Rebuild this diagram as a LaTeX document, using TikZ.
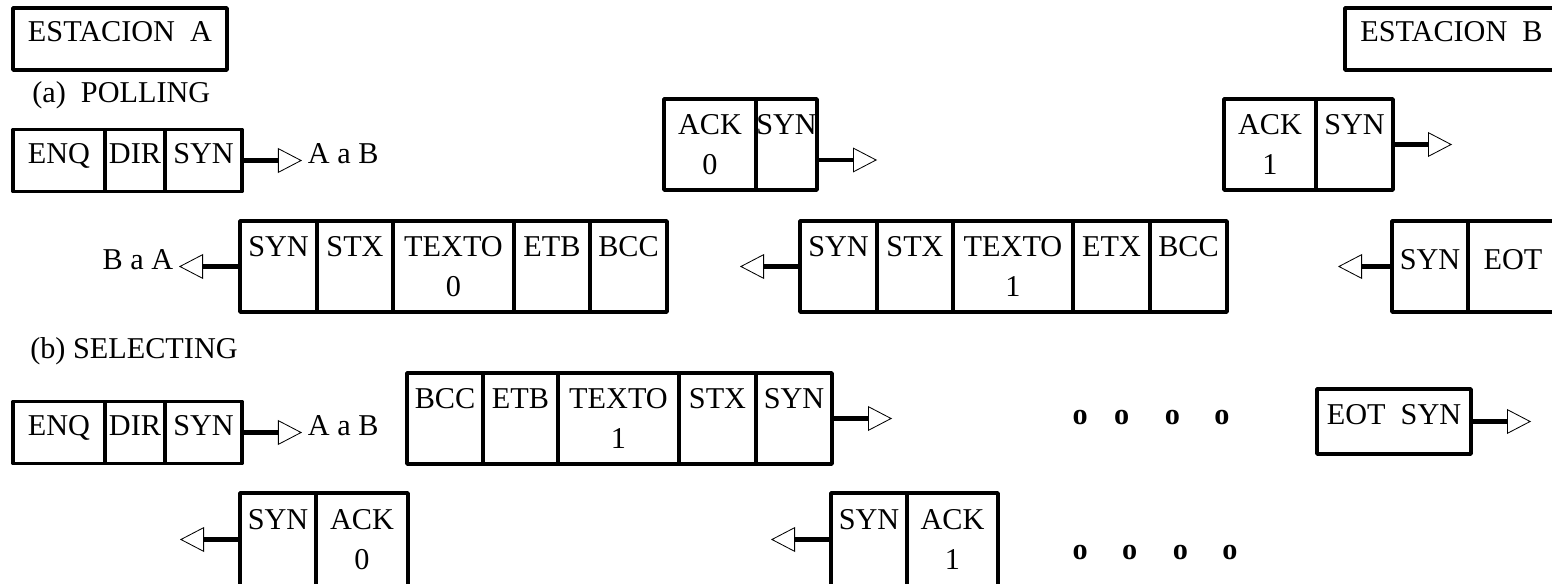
\documentclass[tikz,border=0pt]{standalone}
\usepackage{fontspec}
\setmainfont{Liberation Serif}
\usepackage{tikz}
\usetikzlibrary{arrows.meta}
\newcommand{\pxu}{0.025cm}

\begin{document}
\begin{tikzpicture}[x=0.025cm, y=-0.025cm, font=\fontsize{21.5}{28.4}\selectfont,
  celda/.style 2 args={draw, line width=2.6pt, line join=round, inner sep=0pt, align=center,
    minimum width=#1*\pxu, minimum height=#2*\pxu},
  una/.style={text height=0.67em, text depth=0.25em},
  etiq/.style={inner xsep=0.4em, inner ysep=0pt, text height=0.67em, text depth=0.25em},
  flecha/.style={line width=3pt, -{Triangle[open, length=0.6cm, width=0.62cm, line width=0.6pt]}}]
  \useasboundingbox (0,0) rectangle (1552,584);

  % estaciones
  \node[celda={214}{62}, una] (estA) at (120,39) {ESTACION~~A};
  \node[celda={213}{62}, una] (estB) at (1451.5,39) {ESTACION~~B};

  % (a) polling
  \node[anchor=base west, inner sep=0pt] (pol) at (32,103) {(a)~~POLLING};
  \node[celda={92}{62}, una] (p1e) at (59,160.5) {ENQ};
  \node[celda={60}{62}, una] (p1d) at (135,160.5) {DIR};
  \node[celda={77}{62}, una] (p1s) at (203.5,160.5) {SYN};
  \node[etiq, anchor=west] (p1t) at (302,160.5) {A a B};
  \draw[flecha] (p1s.east) -- (p1t.west);

  \node[celda={92}{91}] (a0k) at (710,144.5) {ACK\\0};
  \node[celda={61}{91}] (a0s) at (786.5,144.5) {SYN\\\phantom{0}};
  \coordinate (a0f) at (877,160);
  \draw[flecha] (a0f -| a0s.east) -- (a0f);

  \node[celda={92}{91}] (a1k) at (1270,144.5) {ACK\\1};
  \node[celda={77}{91}] (a1s) at (1354.5,144.5) {SYN\\\phantom{0}};
  \coordinate (a1f) at (1452,144.5);
  \draw[flecha] (a1s.east) -- (a1f);

  \node[celda={77}{91}] (t0a) at (278.5,266.5) {SYN\\\phantom{0}};
  \node[celda={76}{91}] (t0b) at (355,266.5) {STX\\\phantom{0}};
  \node[celda={121}{91}] (t0c) at (453.5,266.5) {TEXTO\\0};
  \node[celda={76}{91}] (t0d) at (552,266.5) {ETB\\\phantom{0}};
  \node[celda={77}{91}] (t0e) at (628.5,266.5) {BCC\\\phantom{0}};
  \node[etiq, anchor=east] (t0t) at (179,266.5) {B a A};
  \draw[flecha] (t0a.west) -- (t0t.east);

  \node[celda={77}{91}] (t1a) at (838.5,266.5) {SYN\\\phantom{0}};
  \node[celda={76}{91}] (t1b) at (915,266.5) {STX\\\phantom{0}};
  \node[celda={120}{91}] (t1c) at (1013,266.5) {TEXTO\\1};
  \node[celda={77}{91}] (t1d) at (1111.5,266.5) {ETX\\\phantom{0}};
  \node[celda={77}{91}] (t1e) at (1188.5,266.5) {BCC\\\phantom{0}};
  \coordinate (t1f) at (740,266.5);
  \draw[flecha] (t1a.west) -- (t1f);

  \node[celda={76}{91}, una] (fa) at (1430,266.5) {SYN};
  \node[celda={90}{91}, una] (fb) at (1513,266.5) {EOT};
  \coordinate (ff) at (1338,266.5);
  \draw[flecha] (fa.west) -- (ff);

  % (b) selecting
  \node[anchor=base west, inner sep=0pt] (sel) at (30,358) {(b) SELECTING};
  \node[celda={92}{62}, una] (s1e) at (59,432.5) {ENQ};
  \node[celda={60}{62}, una] (s1d) at (135,432.5) {DIR};
  \node[celda={77}{62}, una] (s1s) at (203.5,432.5) {SYN};
  \node[etiq, anchor=west] (s1t) at (302,432.5) {A a B};
  \draw[flecha] (s1s.east) -- (s1t.west);

  \node[celda={76}{91}] (b1a) at (445,418.5) {BCC\\\phantom{0}};
  \node[celda={75}{91}] (b1b) at (520.5,418.5) {ETB\\\phantom{0}};
  \node[celda={121}{91}] (b1c) at (618.5,418.5) {TEXTO\\1};
  \node[celda={77}{91}] (b1d) at (717.5,418.5) {STX\\\phantom{0}};
  \node[celda={76}{91}] (b1e) at (794,418.5) {SYN\\\phantom{0}};
  \coordinate (b1f) at (892,418.5);
  \draw[flecha] (b1e.east) -- (b1f);

  \node (pt1) at (1151,418) {\bfseries o\hspace{0.66cm}o\hspace{0.89cm}o\hspace{0.86cm}o};

  \node[celda={154}{65}, una] (eot) at (1394,421.5) {EOT~~SYN};
  \coordinate (eotf) at (1531,421.5);
  \draw[flecha] (eot.east) -- (eotf);

  \node[celda={76}{93}] (r0a) at (278,539.5) {SYN\\\phantom{0}};
  \node[celda={92}{93}] (r0b) at (362,539.5) {ACK\\0};
  \coordinate (r0f) at (180,539.5);
  \draw[flecha] (r0a.west) -- (r0f);

  \node[celda={76}{93}] (r1a) at (869,539.5) {SYN\\\phantom{0}};
  \node[celda={91}{93}] (r1b) at (952.5,539.5) {ACK\\1};
  \coordinate (r1f) at (771,539.5);
  \draw[flecha] (r1a.west) -- (r1f);

  \node (pt2) at (1155,553) {\bfseries o\hspace{0.86cm}o\hspace{0.89cm}o\hspace{0.86cm}o};
\end{tikzpicture}
\end{document}
